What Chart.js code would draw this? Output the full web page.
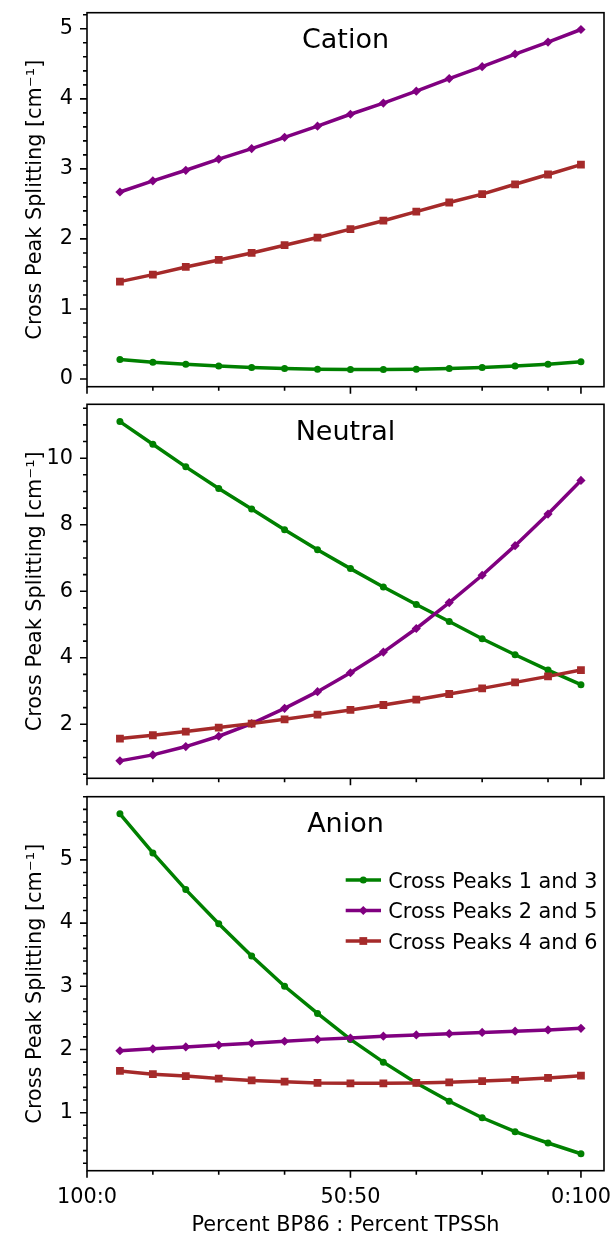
<!DOCTYPE html>
<html>
<head>
<meta charset="utf-8">
<script src="https://cdn.jsdelivr.net/npm/chart.js@4.4.1/dist/chart.umd.min.js"></script>
<style>
  html, body { margin: 0; padding: 0; background: #fff; }
  #wrap { position: relative; width: 614px; height: 1236px; }
  #wrap canvas { position: absolute; left: 0; top: 0; }
</style>
</head>
<body>
<div id="wrap">
  <canvas id="cation" width="614" height="1236"></canvas>
  <canvas id="neutral" width="614" height="1236"></canvas>
  <canvas id="anion" width="614" height="1236"></canvas>
</div>
<script>
// x positions of the 15 mixing ratios, and the axis ticks
const xPositions = [0, 1, 2, 3, 4, 5, 6, 7, 8, 9, 10, 11, 12, 13, 14]
const xMajorTicks = [-1, 7, 14]
const xMajorLabels = ["100:0", "50:50", "0:100"]
const xMinorTicks = [1, 3, 5, 9, 11, 13]

const seriesLabels = ["Cross Peaks 1 and 3", "Cross Peaks 2 and 5", "Cross Peaks 4 and 6"]

const cationPeaks13 = [0.28, 0.24, 0.21, 0.185, 0.165, 0.15, 0.14, 0.135, 0.135, 0.14, 0.15, 0.165, 0.185, 0.21, 0.245]
const cationPeaks25 = [2.67, 2.83, 2.98, 3.14, 3.29, 3.45, 3.61, 3.78, 3.94, 4.11, 4.29, 4.46, 4.64, 4.81, 4.99]
const cationPeaks46 = [1.39, 1.49, 1.60, 1.70, 1.80, 1.91, 2.02, 2.14, 2.26, 2.39, 2.52, 2.64, 2.78, 2.92, 3.06]

const neutralPeaks13 = [11.10, 10.42, 9.74, 9.09, 8.47, 7.85, 7.25, 6.68, 6.13, 5.60, 5.09, 4.57, 4.09, 3.63, 3.19]
const neutralPeaks25 = [0.90, 1.08, 1.33, 1.64, 2.02, 2.48, 2.98, 3.55, 4.17, 4.88, 5.66, 6.48, 7.37, 8.32, 9.33]
const neutralPeaks46 = [1.57, 1.67, 1.78, 1.90, 2.02, 2.15, 2.29, 2.43, 2.58, 2.74, 2.91, 3.08, 3.26, 3.44, 3.63]

const anionPeaks13 = [5.73, 5.11, 4.53, 3.99, 3.48, 3.00, 2.57, 2.16, 1.80, 1.47, 1.18, 0.92, 0.70, 0.52, 0.35]
const anionPeaks25 = [1.98, 2.01, 2.04, 2.07, 2.10, 2.13, 2.16, 2.18, 2.21, 2.23, 2.25, 2.27, 2.29, 2.31, 2.335]
const anionPeaks46 = [1.66, 1.61, 1.58, 1.54, 1.51, 1.49, 1.47, 1.465, 1.465, 1.47, 1.48, 1.50, 1.52, 1.55, 1.585]

const cationYTicks = [0, 1, 2, 3, 4, 5]
const neutralYTicks = [2, 4, 6, 8, 10]
const anionYTicks = [1, 2, 3, 4, 5]

const FONT = "'DejaVu Sans', 'Liberation Sans', sans-serif"
const TEXT_SIZE = 20.8
Chart.defaults.font.family = FONT
Chart.defaults.font.size = TEXT_SIZE
Chart.defaults.color = "#000"

const styles = [
  { color: "#008000", pointStyle: "circle", radius: 3.5, order: 3 },
  { color: "#800080", pointStyle: "rectRot", radius: 4.6, order: 2 },
  { color: "#a52a2a", pointStyle: "rect", radius: 5.5, order: 1 }
]
const LINE_W = 3.5

function drawMarker(ctx, style, x, y) {
  const r = style.radius
  ctx.beginPath()
  if (style.pointStyle === "circle") {
    ctx.arc(x, y, r, 0, Math.PI * 2)
  } else if (style.pointStyle === "rectRot") {
    ctx.moveTo(x, y - r); ctx.lineTo(x + r, y); ctx.lineTo(x, y + r); ctx.lineTo(x - r, y)
    ctx.closePath()
  } else {
    const s = r * Math.SQRT1_2
    ctx.rect(x - s, y - s, 2 * s, 2 * s)
  }
  ctx.fill()
}

const panelDecor = {
  id: "panelDecor",
  afterDatasetsDraw(chart, args, opts) {
    const { ctx, chartArea: a, scales: { x, y } } = chart
    ctx.save()
    ctx.strokeStyle = "#000"
    ctx.lineWidth = 1.6
    ctx.strokeRect(a.left, a.top, a.right - a.left, a.bottom - a.top)

    ctx.beginPath()
    xMajorTicks.forEach(v => {
      const px = x.getPixelForValue(v)
      ctx.moveTo(px, a.bottom); ctx.lineTo(px, a.bottom + 7)
    })
    xMinorTicks.forEach(v => {
      const px = x.getPixelForValue(v)
      ctx.moveTo(px, a.bottom); ctx.lineTo(px, a.bottom + 4)
    })
    opts.yTicks.forEach(v => {
      const py = y.getPixelForValue(v)
      ctx.moveTo(a.left, py); ctx.lineTo(a.left - 7, py)
    })
    const step = opts.minorStep
    for (let k = Math.ceil(y.min / step); k * step <= y.max; k++) {
      const v = k * step
      if (opts.yTicks.some(t => Math.abs(t - v) < 1e-6)) continue
      const py = y.getPixelForValue(v)
      ctx.moveTo(a.left, py); ctx.lineTo(a.left - 4, py)
    }
    ctx.stroke()

    ctx.fillStyle = "#000"
    ctx.font = "27px " + FONT
    ctx.textAlign = "center"
    ctx.textBaseline = "alphabetic"
    ctx.fillText(opts.title, (a.left + a.right) / 2, a.top + 35.5)

    if (opts.legend) {
      ctx.font = TEXT_SIZE + "px " + FONT
      ctx.textAlign = "left"
      chart.data.datasets.forEach((ds, i) => {
        const st = styles[i]
        const ly = a.top + 83.3 + i * 30.5
        ctx.strokeStyle = st.color
        ctx.lineWidth = LINE_W
        ctx.beginPath()
        ctx.moveTo(345.7, ly); ctx.lineTo(381, ly)
        ctx.stroke()
        ctx.fillStyle = st.color
        drawMarker(ctx, st, 363.3, ly)
        ctx.fillStyle = "#000"
        ctx.fillText(ds.label, 388.3, ly + 7.5)
      })
    }
    ctx.restore()
  }
}

function makePanel(id, title, series, yMin, yMax, yTicks, minorStep, pad, isBottom) {
  const datasets = series.map((vals, i) => ({
    label: seriesLabels[i],
    data: xPositions.map((xv, j) => ({ x: xv, y: vals[j] })),
    borderColor: styles[i].color,
    backgroundColor: styles[i].color,
    borderWidth: LINE_W,
    pointStyle: styles[i].pointStyle,
    pointRadius: styles[i].radius,
    pointBorderWidth: 0,
    order: styles[i].order,
    tension: 0
  }))

  return new Chart(document.getElementById(id), {
    type: "line",
    data: { datasets },
    plugins: [panelDecor],
    options: {
      responsive: false,
      animation: false,
      events: [],
      layout: { padding: pad },
      plugins: {
        legend: { display: false },
        tooltip: { enabled: false },
        panelDecor: { title, yTicks, minorStep, legend: isBottom }
      },
      scales: {
        x: {
          type: "linear",
          min: -1,
          max: 14.7,
          display: isBottom,
          afterBuildTicks: s => { s.ticks = xMajorTicks.map(v => ({ value: v })) },
          afterFit: s => { if (isBottom) s.height = 65.3 },
          grid: { display: false, drawTicks: true, tickLength: 14 },
          border: { display: false },
          ticks: {
            padding: 0,
            autoSkip: false,
            maxRotation: 0,
            callback: (v, i) => xMajorLabels[i]
          },
          title: {
            display: true,
            text: "Percent BP86 : Percent TPSSh",
            font: { size: TEXT_SIZE, lineHeight: 1 },
            padding: { top: 0, bottom: 0 }
          }
        },
        y: {
          type: "linear",
          min: yMin,
          max: yMax,
          afterBuildTicks: s => { s.ticks = yTicks.map(v => ({ value: v })) },
          afterFit: s => { s.width = 87 },
          grid: { display: false, drawTicks: true, tickLength: 14 },
          border: { display: false },
          ticks: { padding: 0, callback: v => String(v) },
          title: {
            display: true,
            text: "Cross Peak Splitting [cm\u207B\u00B9]",
            font: { size: TEXT_SIZE },
            padding: { top: 23, bottom: 0 }
          }
        }
      }
    }
  })
}

makePanel("cation", "Cation", [cationPeaks13, cationPeaks25, cationPeaks46],
  -0.11, 5.23, cationYTicks, 0.2, { left: 0, right: 10, top: 12.7, bottom: 849.3 }, false)
makePanel("neutral", "Neutral", [neutralPeaks13, neutralPeaks25, neutralPeaks46],
  0.376, 11.62, neutralYTicks, 0.5, { left: 0, right: 10, top: 404.3, bottom: 457.7 }, false)
makePanel("anion", "Anion", [anionPeaks13, anionPeaks25, anionPeaks46],
  0.082, 6.0, anionYTicks, 0.2, { left: 0, right: 10, top: 796.7, bottom: 0 }, true)
</script>
</body>
</html>
